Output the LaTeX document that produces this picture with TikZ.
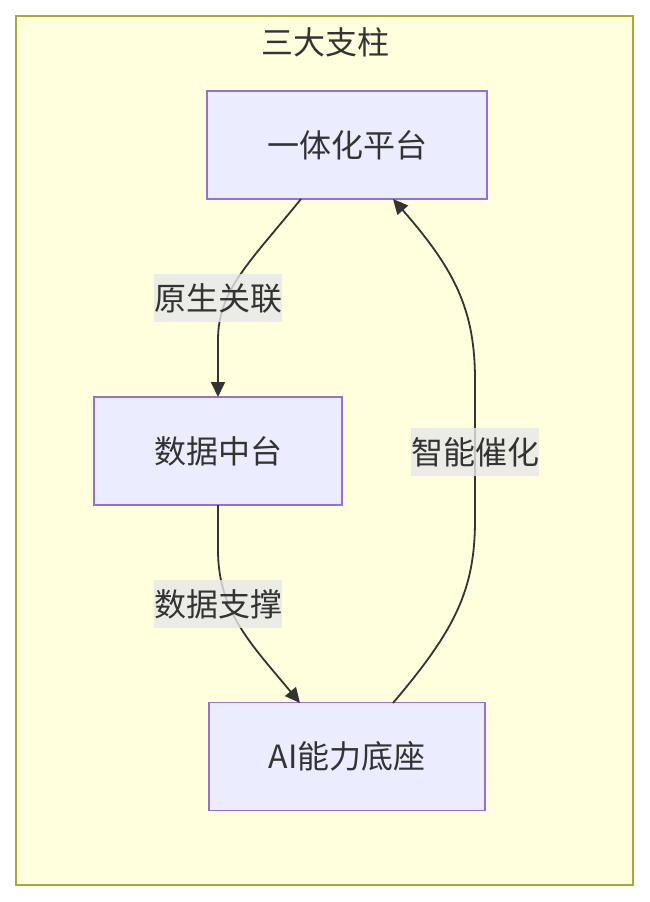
\documentclass[tikz,border=0pt]{standalone}
\usepackage{fontspec}
\setmainfont{Noto Sans CJK SC}
\usetikzlibrary{arrows.meta}
\definecolor{clfill}{HTML}{FFFFDE}
\definecolor{clline}{HTML}{AAAA33}
\definecolor{ndfill}{HTML}{ECECFF}
\definecolor{ndline}{HTML}{9370DB}
\definecolor{txt}{HTML}{333333}
\definecolor{lblbg}{HTML}{E8E8E8}
\tikzset{
  box/.style={draw=ndline, fill=ndfill, line width=1.6pt, minimum height=108pt, text=txt, font=\fontsize{32}{36}\selectfont, inner sep=0pt},
  lbl/.style={fill=lblbg, fill opacity=0.8, text opacity=1, text=txt, font=\fontsize{32}{36}\selectfont, inner sep=0pt, minimum height=48pt},
  edge/.style={draw=txt, line width=1.8pt, -{Triangle[length=15pt,width=14pt]}},
}
\begin{document}
\begin{tikzpicture}[x=1pt,y=-1pt]
\useasboundingbox (0,0) rectangle (649,902);
\fill[white] (0,0) rectangle (649,902);
\draw[draw=clline, fill=clfill, line width=1.6pt] (16,16) rectangle (633,885);
\node[text=txt, font=\fontsize{32}{36}\selectfont] (title) at (325,42) {三大支柱};
\node[box, minimum width=280pt] (p) at (347,145) {一体化平台};
\node[box, minimum width=248pt] (d) at (218,451) {数据中台};
\node[box, minimum width=276pt] (a) at (347,756.5) {AI能力底座};
\coordinate (pS) at (301,199);
\coordinate (dN) at (218,397);
\coordinate (dS) at (218,505);
\coordinate (aN1) at (300,703);
\coordinate (aN2) at (393,703);
\coordinate (pS2) at (393,199);
\draw[edge] (pS) .. controls (250,262) and (218,290) .. (218,340) -- (dN);
\draw[edge] (dS) -- (218,550) .. controls (218,612) and (252,645) .. (aN1);
\draw[edge] (aN2) .. controls (455,630) and (475,590) .. (475,520) -- (475,380) .. controls (475,310) and (455,270) .. (pS2);
\node[lbl] (l1) at (218,298) {原生关联};
\node[lbl] (l2) at (218,604) {数据支撑};
\node[lbl] (l3) at (475,452) {智能催化};
\end{tikzpicture}
\end{document}
